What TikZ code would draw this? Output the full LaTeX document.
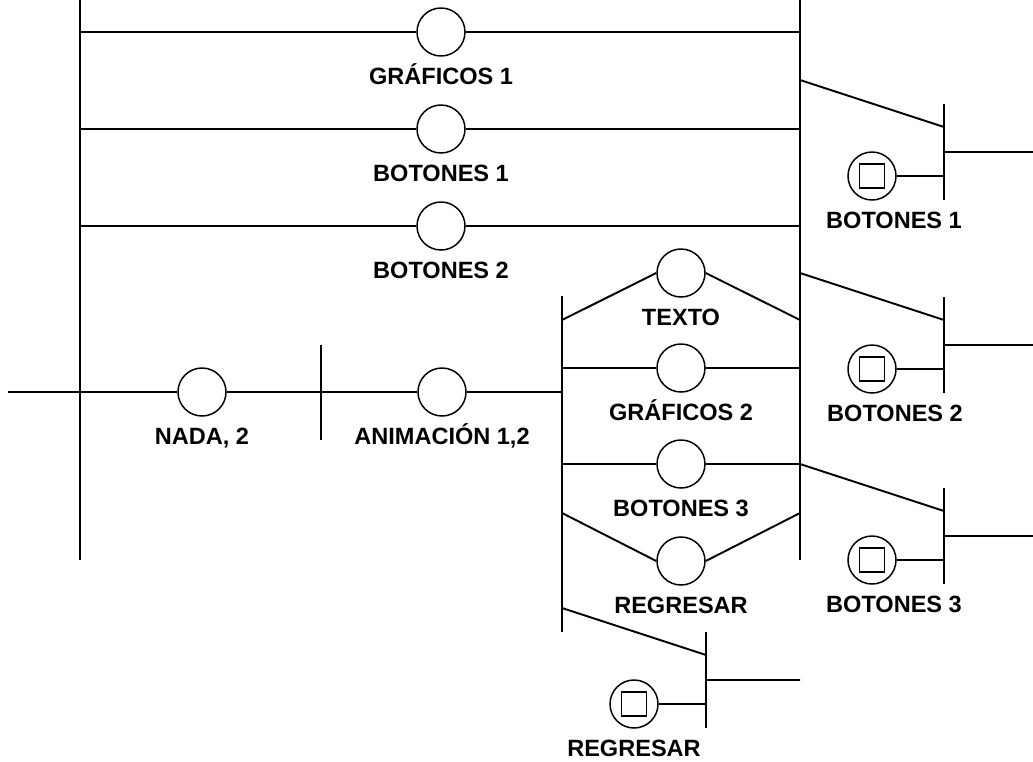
\documentclass[tikz,border=0pt]{standalone}
\usepackage{fontspec}
\setmainfont{Liberation Sans}
\usetikzlibrary{positioning}

\tikzset{
  etapa/.style={circle, draw, line width=0.85pt, minimum size=0.96cm, inner sep=0pt},
  pulsador/.style={etapa, path picture={
      \draw[line width=0.85pt] ([shift={(-0.25cm,-0.24cm)}]path picture bounding box.center)
        rectangle ++(0.5cm,0.48cm);}},
  rotulo/.style={font=\bfseries\fontsize{13.4}{15}\selectfont, inner sep=0pt,
      text height=9.4pt, text depth=0pt},
  abajo/.style={label={[rotulo, label distance=0.21cm]below:{#1}}},
  barra/.style={line width=1.2pt},
  linea/.style={line width=1.1pt}
}

\begin{document}
\begin{tikzpicture}[x=0.02cm, y=-0.02cm]
  \useasboundingbox (0,0) rectangle (1033,761);

  % barras
  \coordinate (L1) at (80,0);    \coordinate (L2) at (80,560);
  \coordinate (R1) at (800,0);   \coordinate (R2) at (800,560);
  \coordinate (M1) at (321,345); \coordinate (M2) at (321,440);
  \coordinate (I1) at (562,296); \coordinate (I2) at (562,632);
  \draw[barra] (L1) -- (L2) (R1) -- (R2) (M1) -- (M2) (I1) -- (I2);

  % ramas superiores
  \foreach \y/\n/\t in {32/g1/GRÁFICOS 1, 129/b1/BOTONES 1, 226/b2/BOTONES 2} {
    \coordinate (\n-l) at (80,\y);
    \coordinate (\n-r) at (800,\y);
    \node[etapa, abajo=\t] (\n) at (441,\y) {};
    \draw[linea] (\n-l) -- (\n.west) (\n.east) -- (\n-r);
  }

  % fila principal
  \coordinate (e0) at (8,392);
  \coordinate (e1) at (80,392);
  \coordinate (e2) at (321,392);
  \coordinate (e3) at (562,392);
  \node[etapa, abajo={NADA, 2}] (nada) at (202,392) {};
  \node[etapa, abajo={ANIMACIÓN 1,2}] (anim) at (442,392) {};
  \draw[linea] (e0) -- (e1) -- (nada.west) (nada.east) -- (e2) -- (anim.west)
    (anim.east) -- (e3);

  % ramas interiores
  \foreach \y/\d/\n/\t in {273/47/tx/TEXTO, 368/0/g2/GRÁFICOS 2,
                           464/0/b3/BOTONES 3, 561/-48/rg/REGRESAR} {
    \coordinate (\n-l) at (562,\y+\d);
    \coordinate (\n-r) at (800,\y+\d);
    \node[etapa, abajo=\t] (\n) at (681,\y) {};
    \draw[linea] (\n-l) -- (\n.west) (\n.east) -- (\n-r);
  }

  % transiciones con pulsador
  \foreach \x/\y/\n/\t/\e/\s in {800/80/p1/BOTONES 1/1033/22, 800/273/p2/BOTONES 2/1033/23,
                                 800/464/p3/BOTONES 3/1033/22, 562/608/p4/REGRESAR/800/0} {
    \coordinate (\n-a) at (\x,\y);
    \coordinate (\n-b) at (\x+144,\y+47);
    \coordinate (\n-c) at (\x+144,\y+24);
    \coordinate (\n-d) at (\x+144,\y+120);
    \coordinate (\n-o) at (\x+144,\y+72);
    \coordinate (\n-f) at (\e,\y+72);
    \coordinate (\n-p) at (\x+144,\y+96);
    \node[pulsador, label={[rotulo, label distance=0.21cm, xshift=\s*0.02cm]below:{\t}}]
      (\n) at (\x+72,\y+96) {};
    \draw[barra] (\n-c) -- (\n-d);
    \draw[linea] (\n-a) -- (\n-b) (\n-o) -- (\n-f) (\n.east) -- (\n-p);
  }
\end{tikzpicture}
\end{document}
